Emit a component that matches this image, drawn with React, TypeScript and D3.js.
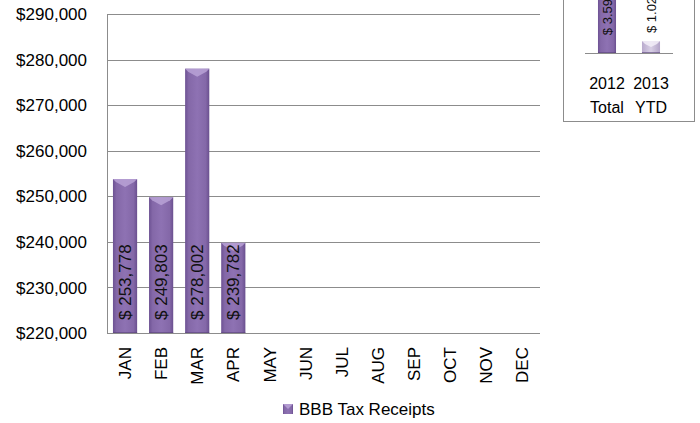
import React from "react";
import * as d3 from "d3";

const months = ["JAN", "FEB", "MAR", "APR", "MAY", "JUN", "JUL", "AUG", "SEP", "OCT", "NOV", "DEC"];
const receipts = [253778, 249803, 278002, 239782];
const yTicks = [220000, 230000, 240000, 250000, 260000, 270000, 280000, 290000];
const seriesName = "BBB Tax Receipts";
const insetCategories = [["2012", "Total"], ["2013", "YTD"]];
const insetValues = [3.59, 1.02];

const W = 700;
const H = 423;
const FONT = "'Liberation Sans', Arial, sans-serif";

function BevelBar({ x, y, w, h, grad, top }: { x: number; y: number; w: number; h: number; grad: string; top: string }) {
  const b = Math.min(8, h / 2);
  const xm = x + w / 2;
  const pts = [
    [x, y],
    [x + w, y],
    [x + w - 3, y + 3],
    [xm, y + b],
    [x + 3, y + 3],
  ]
    .map((p) => p.join(","))
    .join(" ");
  return (
    <g>
      <rect x={x} y={y} width={w} height={h} fill={`url(#${grad})`} />
      <polygon points={pts} fill={top} opacity={0.85} />
      <line x1={x} x2={x + w} y1={y + h - 0.5} y2={y + h - 0.5} stroke="#5a447a" strokeWidth={1} opacity={0.6} />
    </g>
  );
}

export default function App() {
  const x = d3.scaleBand<string>().domain(months).range([107, 540]).paddingInner(0.33).paddingOuter(0.165);
  const y = d3.scaleLinear().domain([220000, 290000]).range([333, 14]);
  const xBand = d3.scaleBand<string>().domain(months).range([107, 540]);

  const ix = d3.scaleBand<string>().domain(insetCategories.map((c) => c[0])).range([585, 673]).paddingInner(0.59).paddingOuter(0.295);
  const iy = d3.scaleLinear().domain([0.5, 3.59]).range([53, -18]);

  const fmt = d3.format(",");

  return (
    <svg width={W} height={H} style={{ position: "absolute", left: 0, top: 0, background: "#fff" }} fontFamily={FONT}>
      <defs>
        <linearGradient id="barGrad" x1="0" x2="1" y1="0" y2="0">
          <stop offset="0" stopColor="#6d5293" />
          <stop offset="0.15" stopColor="#8468a8" />
          <stop offset="0.5" stopColor="#8e72b3" />
          <stop offset="0.85" stopColor="#8468a8" />
          <stop offset="1" stopColor="#6a4f8f" />
        </linearGradient>
        <linearGradient id="lightGrad" x1="0" x2="1" y1="0" y2="0">
          <stop offset="0" stopColor="#b9aacd" />
          <stop offset="0.5" stopColor="#d8cfe5" />
          <stop offset="1" stopColor="#b3a4c8" />
        </linearGradient>
      </defs>

      {/* gridlines */}
      {yTicks.map((t) => (
        <line key={t} x1={107} x2={540} y1={Math.round(y(t)) + 0.5} y2={Math.round(y(t)) + 0.5} stroke="#8c8c8c" strokeWidth={1} />
      ))}
      <line x1={107.5} x2={107.5} y1={14} y2={333} stroke="#8c8c8c" strokeWidth={1} />

      {/* y labels */}
      {yTicks.map((t) => (
        <text key={t} x={87} y={y(t)} dy="0.36em" textAnchor="end" fontSize={17} fill="#000">
          {"$" + fmt(t)}
        </text>
      ))}

      {/* bars */}
      {receipts.map((v, i) => {
        const bx = x(months[i])!;
        const bw = x.bandwidth();
        const top = y(v);
        return (
          <g key={i}>
            <BevelBar x={bx} y={top} w={bw} h={y(220000) - top} grad="barGrad" top="#b8a2d6" />
            <text
              transform={`translate(${bx + bw / 2},${y(220000) - 13}) rotate(-90)`}
              dy="0.36em"
              textAnchor="start"
              fontSize={17}
              fill="#111"
            >
              {"$ " + fmt(v)}
            </text>
          </g>
        );
      })}

      {/* month labels */}
      {months.map((m) => (
        <text
          key={m}
          transform={`translate(${xBand(m)! + xBand.bandwidth() / 2},347) rotate(-90)`}
          dy="0.36em"
          textAnchor="end"
          fontSize={17}
          fill="#000"
        >
          {m}
        </text>
      ))}

      {/* legend */}
      <rect x={283} y={404} width={10} height={10} fill="url(#barGrad)" />
      <polygon points="283,404 293,404 288,409" fill="#b8a2d6" opacity={0.85} />
      <text x={299} y={409} dy="0.36em" fontSize={17} fill="#000">
        {seriesName}
      </text>

      {/* inset */}
      <rect x={563.5} y={-10} width={131} height={131.5} fill="#fff" stroke="#8c8c8c" strokeWidth={1} />
      {insetValues.map((v, i) => {
        const bx = ix(insetCategories[i][0])!;
        const bw = ix.bandwidth();
        const top = iy(v);
        const inside = i === 0;
        return (
          <g key={i}>
            <BevelBar
              x={bx}
              y={top}
              w={bw}
              h={iy(0.5) - top}
              grad={inside ? "barGrad" : "lightGrad"}
              top={inside ? "#b8a2d6" : "#f3eff8"}
            />
            <text
              transform={`translate(${bx + bw / 2},${inside ? top + 17 : top - 8}) rotate(-90)`}
              dy="0.36em"
              textAnchor={inside ? "end" : "start"}
              fontSize={13}
              fill="#111"
            >
              {"$ " + v.toFixed(2)}
            </text>
          </g>
        );
      })}
      <line x1={585} x2={673} y1={53.5} y2={53.5} stroke="#8c8c8c" strokeWidth={1} />
      {insetCategories.map((c) => (
        <text key={c[0]} textAnchor="middle" fontSize={16} fill="#000">
          <tspan x={ix(c[0])! + ix.bandwidth() / 2} y={83} dy="0.36em">
            {c[0]}
          </tspan>
          <tspan x={ix(c[0])! + ix.bandwidth() / 2} y={107} dy="0.36em">
            {c[1]}
          </tspan>
        </text>
      ))}
    </svg>
  );
}
